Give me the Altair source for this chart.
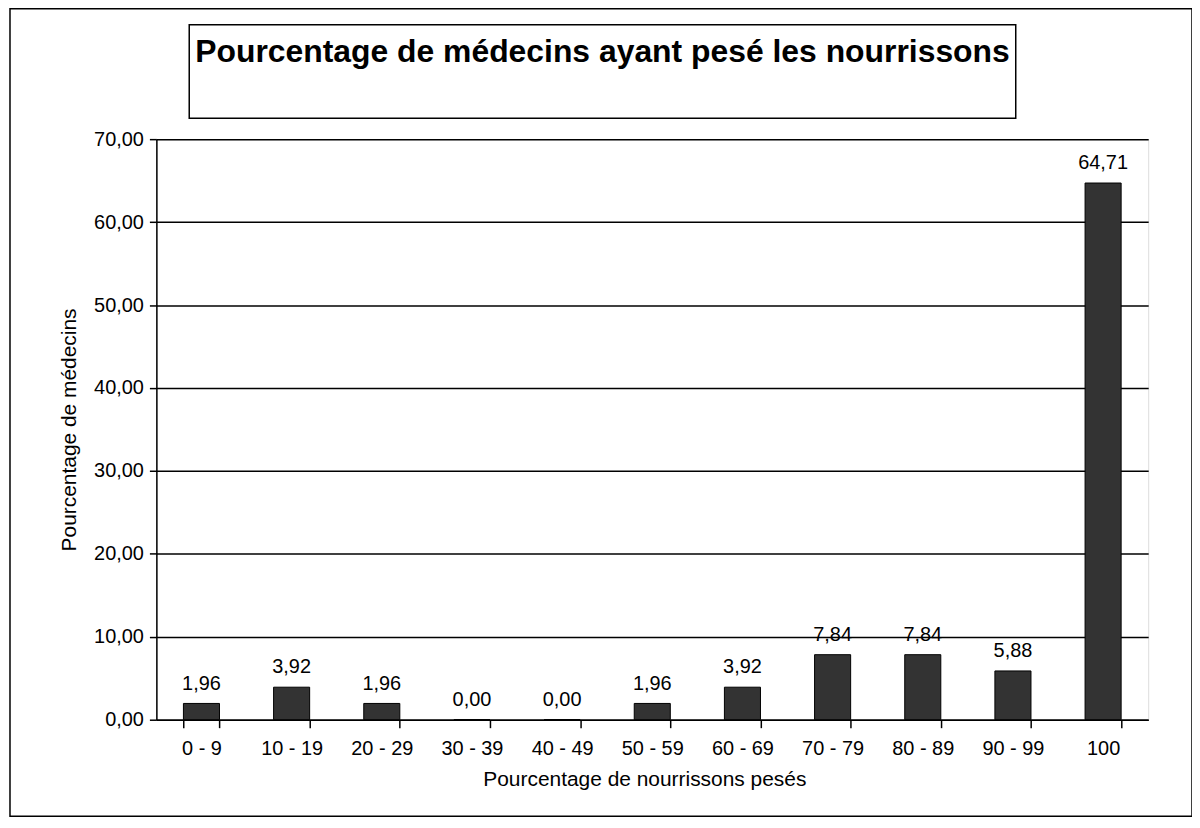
import altair as alt
import pandas as pd

categories = ["0 - 9", "10 - 19", "20 - 29", "30 - 39", "40 - 49", "50 - 59",
              "60 - 69", "70 - 79", "80 - 89", "90 - 99", "100"]
values = [1.96, 3.92, 1.96, 0.00, 0.00, 1.96, 3.92, 7.84, 7.84, 5.88, 64.71]
title_text = "Pourcentage de médecins ayant pesé les nourrissons"
y_title = "Pourcentage de médecins"
x_title = "Pourcentage de nourrissons pesés"

FONT = "Liberation Sans"
W, H = 996, 583

df = pd.DataFrame({"cat": categories, "val": values})
df["lab"] = [f"{v:.2f}".replace(".", ",") for v in values]

x_enc = alt.X(
    "cat:N", sort=categories, title=x_title,
    scale=alt.Scale(paddingInner=0.6, paddingOuter=0.3),
    axis=alt.Axis(
        labelAngle=0, labelFont=FONT, labelFontSize=20, labelColor="black",
        labelPadding=11, tickBand="extent", tickSize=8, tickColor="black",
        tickWidth=1.5, domainColor="black", domainWidth=1.5, grid=False,
        titleFont=FONT, titleFontSize=21,
        titleFontWeight="normal", titleColor="black", titleX=490, titleY=60,
        titleBaseline="middle", titleAnchor="middle",
    ),
)
y_enc = alt.Y(
    "val:Q", title=y_title,
    scale=alt.Scale(domain=[0, 70], nice=False),
    axis=alt.Axis(
        values=[0, 10, 20, 30, 40, 50, 60, 70],
        labelExpr="replace(format(datum.value, '.2f'), '.', ',')",
        labelFont=FONT, labelFontSize=20, labelColor="black", labelPadding=6,
        tickSize=7, tickColor="black", tickWidth=1.5,
        domainColor="black", domainWidth=1.5,
        gridColor="black", gridOpacity=1, gridWidth=1.5,
        titleFont=FONT, titleFontSize=21, titleFontWeight="normal",
        titleColor="black", titleAngle=270, titleX=-87, titleY=H / 2,
        titleBaseline="middle", titleAlign="center",
    ),
)

bars = alt.Chart(df).mark_bar(color="#333333", stroke="black", strokeWidth=1).encode(
    x=x_enc, y=y_enc
)
labels = alt.Chart(df).mark_text(
    font=FONT, fontSize=20, color="black", baseline="alphabetic", dy=-14
).encode(x=alt.X("cat:N", sort=categories), y="val:Q", text="lab:N")

deco = pd.DataFrame({"k": [0]})
outer = alt.Chart(deco).mark_rect(fill=None, stroke="black", strokeWidth=1.5).encode(
    x=alt.value(-147), x2=alt.value(1040), y=alt.value(-131), y2=alt.value(680)
)
tbox = alt.Chart(deco).mark_rect(fill="white", stroke="black", strokeWidth=1.5).encode(
    x=alt.value(33), x2=alt.value(863), y=alt.value(-115), y2=alt.value(-21)
)
ttext = alt.Chart(pd.DataFrame({"t": [title_text]})).mark_text(
    font=FONT, fontSize=32, fontWeight="bold", color="black",
    align="center", baseline="alphabetic"
).encode(x=alt.value(448), y=alt.value(-77), text="t:N")

chart = alt.layer(outer, tbox, ttext, bars, labels).properties(
    width=W, height=H,
    autosize=alt.AutoSizeParams(type="none"),
    padding={"left": 149, "top": 130, "right": 44, "bottom": 97},
).configure_view(stroke="black", strokeWidth=1.5).configure(background="white")

chart.save("out.html", embed_options={"renderer": "svg", "actions": False})
